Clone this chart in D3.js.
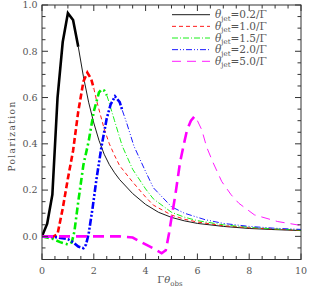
<!DOCTYPE html>
<html>
<head>
<meta charset="utf-8">
<script src="https://cdn.jsdelivr.net/npm/d3@7"></script>
<style>
  body { margin: 0; background: #fff; }
  svg text { font-family: "DejaVu Serif", serif; fill: #555; }
</style>
</head>
<body>
<svg id="chart" width="310" height="291"></svg>
<script>
// jet opening angles (in units of 1/Gamma) and where the thick part of each curve ends
var thetas = [0.2, 1.0, 1.5, 2.0, 5.0];
var thickEnd = [1.4, 2.0, 2.5, 3.1, 6.0];
var colors = ["#000000", "#ff0000", "#00ee00", "#0000ff", "#ff00ff"];

// curves: [Gamma*theta_obs, polarization]
var curve02 = [[0,0],[0.2,0.055],[0.4,0.18],[0.6,0.6],[0.8,0.84],[1.0,0.965],[1.2,0.935],[1.4,0.82],
  [1.6,0.69],[1.8,0.58],[2.0,0.49],[2.2,0.415],[2.4,0.355],[2.6,0.31],[2.8,0.275],[3.0,0.245],
  [3.5,0.185],[4.0,0.138],[4.5,0.104],[5.0,0.082],[5.5,0.067],[6.0,0.056],[7.0,0.043],[8.0,0.034],
  [9.0,0.029],[10.0,0.025]];
var curve10 = [[0,0],[0.2,0],[0.4,-0.003],[0.6,0.01],[0.8,0.12],[1.0,0.25],[1.2,0.37],[1.4,0.54],
  [1.6,0.67],[1.75,0.708],[1.9,0.68],[2.0,0.64],[2.1,0.59],[2.4,0.465],[2.6,0.4],[2.8,0.35],
  [3.0,0.305],[3.5,0.235],[4.0,0.17],[4.3,0.135],[5.0,0.092],[5.5,0.074],[6.0,0.062],[7.0,0.046],
  [8.0,0.037],[9.0,0.031],[10.0,0.026]];
var curve15 = [[0,0],[0.4,-0.01],[0.7,-0.025],[1.0,-0.035],[1.15,-0.026],[1.25,0.02],[1.4,0.15],
  [1.6,0.31],[1.8,0.41],[2.0,0.54],[2.2,0.622],[2.3,0.635],[2.4,0.63],[2.5,0.61],[2.56,0.59],
  [2.8,0.5],[3.1,0.39],[3.5,0.29],[4.0,0.205],[4.3,0.162],[5.0,0.104],[5.5,0.083],[6.0,0.068],
  [7.0,0.05],[8.0,0.039],[9.0,0.032],[10.0,0.027]];
var curve20 = [[0,0],[0.5,-0.003],[1.0,-0.012],[1.2,-0.025],[1.4,-0.044],[1.6,-0.051],[1.7,-0.035],
  [1.8,0.01],[1.95,0.12],[2.1,0.245],[2.3,0.39],[2.5,0.51],[2.65,0.57],[2.82,0.605],[3.0,0.58],
  [3.1,0.545],[3.27,0.49],[3.55,0.39],[4.0,0.28],[4.3,0.21],[5.0,0.128],[5.5,0.1],[6.3,0.072],
  [7.0,0.056],[8.0,0.043],[9.0,0.035],[10.0,0.03]];
var curve50 = [[0,0],[3.0,0],[3.5,-0.005],[4.0,-0.035],[4.35,-0.055],[4.62,-0.073],[4.78,-0.06],
  [4.9,0.01],[5.0,0.08],[5.15,0.18],[5.33,0.32],[5.5,0.41],[5.6,0.46],[5.75,0.5],[5.88,0.517],
  [6.0,0.5],[6.17,0.46],[6.36,0.385],[6.6,0.32],[6.94,0.237],[7.3,0.18],[7.6,0.143],[8.2,0.093],
  [9.1,0.064],[10.0,0.047]];
var curves = [curve02, curve10, curve15, curve20, curve50];

var xTicks = [0, 2, 4, 6, 8, 10];
var yTicks = [0.0, 0.2, 0.4, 0.6, 0.8, 1.0];

var thickDash = ["none", "6,3", "7,3,2,3", "7,2,2,2,2,2", "11,6"];
var thinDash = ["none", "4,3", "6,2,1,2", "6,2,1,2,1,2", "9,6"];

var svg = d3.select("#chart");
var pl = 42, pr = 301, pt = 5, pb = 259.5;

var x = d3.scaleLinear().domain([0, 10]).range([pl, pr]);
var y = d3.scaleLinear().domain([-0.1, 1.0]).range([pb, pt]);

var line = d3.line().x(function(d) { return x(d[0]); }).y(function(d) { return y(d[1]); });

svg.append("defs").append("clipPath").attr("id", "clip")
  .append("rect").attr("x", pl).attr("y", pt).attr("width", pr - pl).attr("height", pb - pt);

var plot = svg.append("g").attr("clip-path", "url(#clip)");

// thick part inside the cone, thin part outside
curves.forEach(function(c, i) {
  var cut = d3.bisector(function(d) { return d[0]; }).right(c, thickEnd[i]);
  var thick = c.slice(0, cut);
  var thin = c.slice(cut - 1);
  plot.append("path").datum(thin)
    .attr("d", line).attr("fill", "none")
    .attr("stroke", colors[i]).attr("stroke-width", 0.9)
    .attr("stroke-dasharray", thinDash[i]);
  plot.append("path").datum(thick)
    .attr("d", line).attr("fill", "none")
    .attr("stroke", colors[i]).attr("stroke-width", 2.6)
    .attr("stroke-dasharray", thickDash[i]);
});

// frame and inward ticks on all four sides
var axisColor = "#333";
svg.append("rect").attr("x", pl).attr("y", pt).attr("width", pr - pl).attr("height", pb - pt)
  .attr("fill", "none").attr("stroke", axisColor).attr("stroke-width", 1);

var xAll = d3.range(0, 10.01, 0.5);
var yAll = d3.range(-0.05, 1.001, 0.05);
var tk = svg.append("g").attr("stroke", axisColor).attr("stroke-width", 1);
xAll.forEach(function(v) {
  var len = Math.abs(v % 2) < 1e-6 ? 6 : 3.5;
  tk.append("line").attr("x1", x(v)).attr("x2", x(v)).attr("y1", pb).attr("y2", pb - len);
  tk.append("line").attr("x1", x(v)).attr("x2", x(v)).attr("y1", pt).attr("y2", pt + len);
});
yAll.forEach(function(v) {
  var r = Math.round(v * 100);
  var len = (r % 20 === 0) ? 6 : 3.5;
  tk.append("line").attr("y1", y(v)).attr("y2", y(v)).attr("x1", pl).attr("x2", pl + len);
  tk.append("line").attr("y1", y(v)).attr("y2", y(v)).attr("x1", pr).attr("x2", pr - len);
});

svg.append("g").selectAll("text").data(xTicks).join("text")
  .attr("x", function(d) { return x(d); }).attr("y", 274)
  .attr("text-anchor", "middle").attr("font-size", 9.5).attr("fill", "#666")
  .text(function(d) { return d; });

svg.append("g").selectAll("text").data(yTicks).join("text")
  .attr("x", 37.5).attr("y", function(d) { return y(d) + 3.4; })
  .attr("text-anchor", "end").attr("font-size", 9.5).attr("fill", "#666")
  .text(function(d) { return d.toFixed(1); });

svg.append("text").attr("transform", "translate(15,136) rotate(-90)")
  .attr("text-anchor", "middle").attr("font-size", 9).attr("letter-spacing", 1.4)
  .attr("fill", "#666").text("Polarization");

var xl = svg.append("text").attr("x", 170).attr("y", 283).attr("text-anchor", "middle")
  .attr("font-size", 10).attr("fill", "#666");
xl.append("tspan").text("Γ");
xl.append("tspan").attr("font-style", "italic").text("θ");
xl.append("tspan").attr("font-size", 7).attr("dy", 2.5).text("obs");

// legend
var lg = svg.append("g");
thetas.forEach(function(t, i) {
  var ly = 14.7 + i * 11.65;
  lg.append("line").attr("x1", 172).attr("x2", 210).attr("y1", ly).attr("y2", ly)
    .attr("stroke", colors[i]).attr("stroke-width", 0.9)
    .attr("stroke-dasharray", thinDash[i]);
  var tx = lg.append("text").attr("x", 215).attr("y", ly + 3.5).attr("font-size", 10.5);
  tx.append("tspan").attr("font-style", "italic").text("θ");
  tx.append("tspan").attr("font-size", 7).attr("dy", 2.5).text("jet");
  tx.append("tspan").attr("dy", -2.5).text("=" + t.toFixed(1) + "/Γ");
});
</script>
</body>
</html>
